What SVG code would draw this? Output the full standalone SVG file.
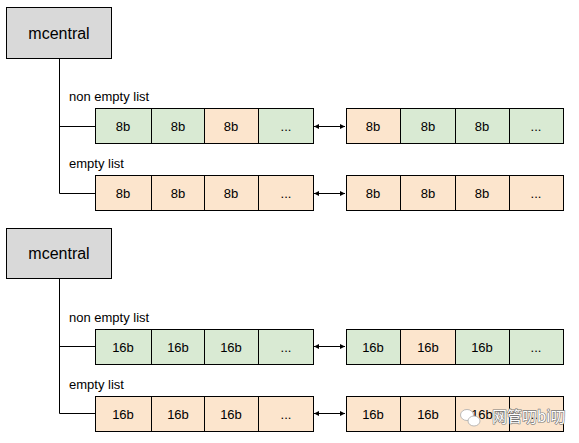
<svg xmlns="http://www.w3.org/2000/svg" width="579" height="443" viewBox="0 0 579 443">
<style>
.mc{fill:#d9d9d9;stroke:#000;stroke-width:1}
.g{fill:#d9ead3;stroke:#000;stroke-width:1}
.o{fill:#fce5cd;stroke:#000;stroke-width:1}
.ln{fill:none;stroke:#000;stroke-width:1}
.t{font-family:"Liberation Sans",Arial,sans-serif;font-size:13px;fill:#000;text-anchor:middle}
.lb{font-family:"Liberation Sans",Arial,sans-serif;font-size:13px;fill:#000}
.mt{font-family:"Liberation Sans",Arial,sans-serif;font-size:16px;fill:#000;text-anchor:middle}
.wm{font-family:"Noto Sans CJK SC","Liberation Sans",sans-serif;font-size:15px;fill:#fff;stroke:#777;stroke-width:1.2;paint-order:stroke}
</style>
<defs>
<marker id="ah" markerWidth="6" markerHeight="6" refX="5" refY="3" orient="auto-start-reverse" markerUnits="userSpaceOnUse">
<path d="M0,0.5 L5,3 L0,5.5 Z" fill="#000"/>
</marker>
</defs>
<g id="connectors">
<path class="ln" d="M59.5,59 V193.5 M59.5,126.5 H95 M59.5,193.5 H95"/>
<line class="ln" x1="314" y1="126.5" x2="345" y2="126.5" marker-start="url(#ah)" marker-end="url(#ah)"/>
<line class="ln" x1="314" y1="193.5" x2="345" y2="193.5" marker-start="url(#ah)" marker-end="url(#ah)"/>
<path class="ln" d="M59.5,279 V413.5 M59.5,346.5 H95 M59.5,413.5 H95"/>
<line class="ln" x1="314" y1="346.5" x2="345" y2="346.5" marker-start="url(#ah)" marker-end="url(#ah)"/>
<line class="ln" x1="314" y1="413.5" x2="345" y2="413.5" marker-start="url(#ah)" marker-end="url(#ah)"/>
</g>
<g id="mcentral1">
<rect class="mc" x="6.5" y="7.5" width="105" height="51"/>
<text class="mt" x="59" y="39">mcentral</text>
</g>
<g id="label-nonempty1"><text class="lb" x="69" y="101">non empty list</text></g>
<g id="label-empty1"><text class="lb" x="69" y="168">empty list</text></g>
<g id="list1a">
<rect class="g" x="95.5" y="108.5" width="56" height="35"/>
<rect class="g" x="151.5" y="108.5" width="53" height="35"/>
<rect class="o" x="204.5" y="108.5" width="54" height="35"/>
<rect class="g" x="258.5" y="108.5" width="55" height="35"/>
<text class="t" x="123" y="131">8b</text><text class="t" x="178" y="131">8b</text><text class="t" x="231" y="131">8b</text><text class="t" x="286" y="131">...</text>
</g>
<g id="list1b">
<rect class="o" x="346.5" y="108.5" width="54" height="35"/>
<rect class="g" x="400.5" y="108.5" width="55" height="35"/>
<rect class="g" x="455.5" y="108.5" width="54" height="35"/>
<rect class="g" x="509.5" y="108.5" width="54" height="35"/>
<text class="t" x="373" y="131">8b</text><text class="t" x="428" y="131">8b</text><text class="t" x="482" y="131">8b</text><text class="t" x="536" y="131">...</text>
</g>
<g id="list2a">
<rect class="o" x="95.5" y="175.5" width="56" height="35"/>
<rect class="o" x="151.5" y="175.5" width="53" height="35"/>
<rect class="o" x="204.5" y="175.5" width="54" height="35"/>
<rect class="o" x="258.5" y="175.5" width="55" height="35"/>
<text class="t" x="123" y="198">8b</text><text class="t" x="178" y="198">8b</text><text class="t" x="231" y="198">8b</text><text class="t" x="286" y="198">...</text>
</g>
<g id="list2b">
<rect class="o" x="346.5" y="175.5" width="54" height="35"/>
<rect class="o" x="400.5" y="175.5" width="55" height="35"/>
<rect class="o" x="455.5" y="175.5" width="54" height="35"/>
<rect class="o" x="509.5" y="175.5" width="54" height="35"/>
<text class="t" x="373" y="198">8b</text><text class="t" x="428" y="198">8b</text><text class="t" x="482" y="198">8b</text><text class="t" x="536" y="198">...</text>
</g>
<g id="mcentral2">
<rect class="mc" x="6.5" y="228.5" width="105" height="50"/>
<text class="mt" x="59" y="259">mcentral</text>
</g>
<g id="label-nonempty2"><text class="lb" x="69" y="322">non empty list</text></g>
<g id="label-empty2"><text class="lb" x="69" y="389">empty list</text></g>
<g id="list3a">
<rect class="g" x="95.5" y="329.5" width="56" height="35"/>
<rect class="g" x="151.5" y="329.5" width="53" height="35"/>
<rect class="g" x="204.5" y="329.5" width="54" height="35"/>
<rect class="g" x="258.5" y="329.5" width="55" height="35"/>
<text class="t" x="123" y="352">16b</text><text class="t" x="178" y="352">16b</text><text class="t" x="231" y="352">16b</text><text class="t" x="286" y="352">...</text>
</g>
<g id="list3b">
<rect class="g" x="346.5" y="329.5" width="54" height="35"/>
<rect class="o" x="400.5" y="329.5" width="55" height="35"/>
<rect class="g" x="455.5" y="329.5" width="54" height="35"/>
<rect class="g" x="509.5" y="329.5" width="54" height="35"/>
<text class="t" x="373" y="352">16b</text><text class="t" x="428" y="352">16b</text><text class="t" x="482" y="352">16b</text><text class="t" x="536" y="352">...</text>
</g>
<g id="list4a">
<rect class="o" x="95.5" y="396.5" width="56" height="35"/>
<rect class="o" x="151.5" y="396.5" width="53" height="35"/>
<rect class="o" x="204.5" y="396.5" width="54" height="35"/>
<rect class="o" x="258.5" y="396.5" width="55" height="35"/>
<text class="t" x="123" y="419">16b</text><text class="t" x="178" y="419">16b</text><text class="t" x="231" y="419">16b</text><text class="t" x="286" y="419">...</text>
</g>
<g id="list4b">
<rect class="o" x="346.5" y="396.5" width="54" height="35"/>
<rect class="o" x="400.5" y="396.5" width="55" height="35"/>
<rect class="o" x="455.5" y="396.5" width="54" height="35"/>
<rect class="o" x="509.5" y="396.5" width="54" height="35"/>
<text class="t" x="373" y="419">16b</text><text class="t" x="428" y="419">16b</text><text class="t" x="482" y="419">16b</text><text class="t" x="536" y="419">...</text>
</g>
<g id="watermark">
<ellipse cx="467" cy="415" rx="6.5" ry="5.5" fill="#fff" stroke="#aaa" stroke-width="0.8"/>
<ellipse cx="474" cy="421" rx="6" ry="5" fill="#fff" stroke="#aaa" stroke-width="0.8"/>
<text class="wm" x="492" y="422">网管叨bi叨</text>
</g>
</svg>
